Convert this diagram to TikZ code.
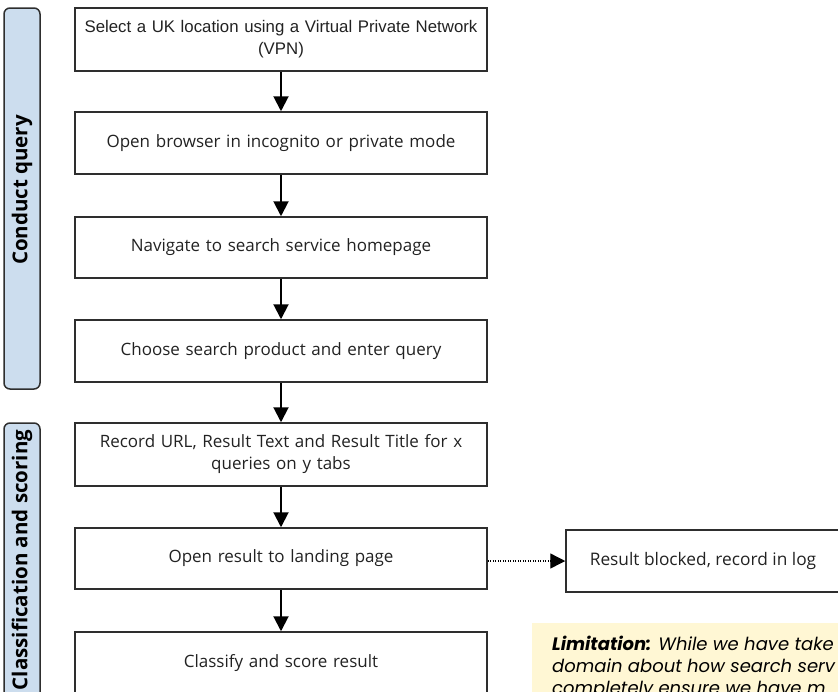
\documentclass[tikz,border=0pt]{standalone}
\usepackage{fontspec}
\setmainfont{Open Sans}
\newfontfamily\robotofont{Liberation Sans}
\newfontfamily\popfont{Poppins}
\usetikzlibrary{arrows.meta}
\definecolor{lblblue}{HTML}{CCDDEE}
\definecolor{notebg}{HTML}{FFF7D4}
\definecolor{edgec}{HTML}{2E2E2E}
\definecolor{txt}{HTML}{222222}
\begin{document}
\begin{tikzpicture}[x=1pt,y=-1pt,
  stepbox/.style={draw=edgec, line width=1.5pt, minimum width=412pt, minimum height=62pt,
    text width=406pt, align=center, font=\fontsize{17}{22}\selectfont, text=txt, inner sep=0pt},
  flow/.style={-{Triangle[width=15pt,length=15pt]}, line width=2pt},
  dotflow/.style={-{Triangle[width=15pt,length=15pt]}, line width=1.4pt, dash pattern=on 1.2pt off 1.3pt},
  lane/.style={draw=edgec, fill=lblblue, line width=1.5pt, rounded corners=6pt},
  lanetext/.style={rotate=90, font=\bfseries\fontsize{20.5}{24}\selectfont, text=black, inner sep=0pt},
  notetext/.style={anchor=base west, font=\popfont\itshape\fontsize{18}{22}\selectfont, text=black, inner sep=0pt}
]
\useasboundingbox (0,0) rectangle (838,691);
\clip (0,0) rectangle (838,691);

% lanes
\draw[lane] (4,8) rectangle (40,389);
\node[lanetext] (lq) at (22,190) {Conduct query};
\draw[lane] (4,423) rectangle (40,705);
\node[lanetext] (lc) at (22,560) {Classification and scoring};

% steps
\node[stepbox, minimum height=63pt, font=\robotofont\fontsize{16.8}{22}\selectfont] (b1) at (281,39.5)
  {Select a UK location using a Virtual Private Network\\(VPN)};
\node[stepbox] (b2) at (281,143) {Open browser in incognito or private mode};
\node[stepbox, minimum height=61pt] (b3) at (281,247.5) {Navigate to search service homepage};
\node[stepbox] (b4) at (281,351) {Choose search product and enter query};
\node[stepbox, minimum height=63pt] (b5) at (281,454.5) {Record URL, Result Text and Result Title for x\\queries on y tabs};
\node[stepbox, minimum height=61pt] (b6) at (281,558.5) {Open result to landing page};
\node[stepbox] (b7) at (281,663) {Classify and score result};

\node[draw=edgec, line width=1.5pt, minimum width=274pt, minimum height=62pt, inner sep=0pt,
  font=\fontsize{17.3}{22}\selectfont, text=txt] (blk) at (703,561) {Result blocked, record in log};

% note
\fill[notebg] (532,623) coordinate (nt) rectangle (860,720);
\node[notetext] (n1) at (552,650) {{\bfseries Limitation:} While we have take};
\node[notetext] (n2) at (552,672) {domain about how search serv};
\node[notetext] (n3) at (552,694) {completely ensure we have m};

% connectors
\draw[flow] (b1) -- (b2);
\draw[flow] (b2) -- (b3);
\draw[flow] (b3) -- (b4);
\draw[flow] (b4) -- (b5);
\draw[flow] (b5) -- (b6);
\draw[flow] (b6) -- (b7);
\draw[dotflow] (b6.east |- blk.west) -- (blk.west);
\end{tikzpicture}
\end{document}
